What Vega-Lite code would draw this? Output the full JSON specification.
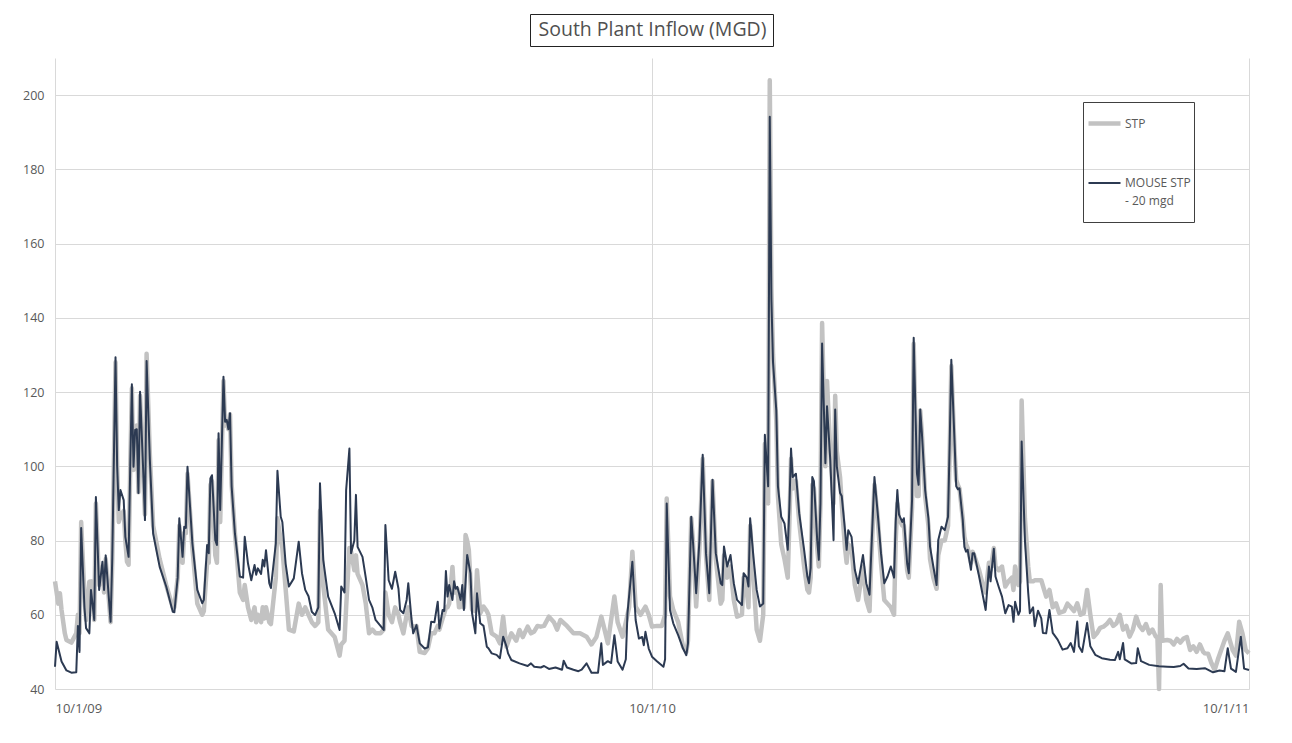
{
"$schema": "https://vega.github.io/schema/vega-lite/v6.json",
"width": 1194, "height": 631,
"autosize": "none",
"padding": {"left": 55, "top": 58, "right": 43, "bottom": 54},
"background": "white",
"data": {"values": [
{"s":"S","day":0,"v":69},{"s":"S","day":1,"v":66},{"s":"S","day":2,"v":63},{"s":"S","day":3,"v":65.8},{"s":"S","day":4,"v":61.3},{"s":"S","day":6,"v":55},{"s":"S","day":7,"v":53.2},{"s":"S","day":10,"v":52.5},{"s":"S","day":13,"v":55},{"s":"S","day":14,"v":60},{"s":"S","day":15,"v":55},{"s":"S","day":16,"v":85},{"s":"S","day":18,"v":65},{"s":"S","day":19,"v":58.6},{"s":"S","day":21,"v":68.9},{"s":"S","day":22,"v":69},{"s":"S","day":24,"v":58.6},{"s":"S","day":25,"v":90},{"s":"S","day":27,"v":68},{"s":"S","day":29,"v":73},{"s":"S","day":30,"v":66},{"s":"S","day":31,"v":75},{"s":"S","day":34,"v":58},{"s":"S","day":35,"v":74},{"s":"S","day":37,"v":128},{"s":"S","day":38,"v":100},{"s":"S","day":39,"v":85},{"s":"S","day":40,"v":86.5},{"s":"S","day":42,"v":88},{"s":"S","day":43,"v":80},{"s":"S","day":44,"v":74.3},{"s":"S","day":45,"v":73.5},{"s":"S","day":46,"v":100},{"s":"S","day":47,"v":121},{"s":"S","day":48,"v":99},{"s":"S","day":49,"v":110},{"s":"S","day":50,"v":111},{"s":"S","day":51,"v":93},{"s":"S","day":52,"v":119},{"s":"S","day":54,"v":97},{"s":"S","day":55,"v":87},{"s":"S","day":56,"v":130.3},{"s":"S","day":58,"v":103},{"s":"S","day":60,"v":84},{"s":"S","day":64,"v":75},{"s":"S","day":68,"v":68},{"s":"S","day":72,"v":62},{"s":"S","day":73,"v":62},{"s":"S","day":75,"v":70},{"s":"S","day":76,"v":84},{"s":"S","day":78,"v":74},{"s":"S","day":79,"v":82},{"s":"S","day":80,"v":82},{"s":"S","day":81,"v":98},{"s":"S","day":84,"v":78},{"s":"S","day":87,"v":63},{"s":"S","day":90,"v":60},{"s":"S","day":91,"v":61},{"s":"S","day":93,"v":74},{"s":"S","day":94,"v":74},{"s":"S","day":95,"v":95},{"s":"S","day":96,"v":96},{"s":"S","day":98,"v":76},{"s":"S","day":99,"v":74},{"s":"S","day":100,"v":107},{"s":"S","day":101,"v":85},{"s":"S","day":103,"v":123},{"s":"S","day":104,"v":111},{"s":"S","day":105,"v":112},{"s":"S","day":106,"v":110},{"s":"S","day":107,"v":114},{"s":"S","day":108,"v":95},{"s":"S","day":110,"v":82},{"s":"S","day":113,"v":66},{"s":"S","day":115,"v":64},{"s":"S","day":116,"v":68},{"s":"S","day":118,"v":62},{"s":"S","day":120,"v":58.6},{"s":"S","day":122,"v":62},{"s":"S","day":123,"v":58},{"s":"S","day":124,"v":60},{"s":"S","day":126,"v":58},{"s":"S","day":127,"v":62},{"s":"S","day":128,"v":59},{"s":"S","day":129,"v":62},{"s":"S","day":131,"v":58},{"s":"S","day":132,"v":57.5},{"s":"S","day":135,"v":70},{"s":"S","day":136,"v":86},{"s":"S","day":138,"v":80},{"s":"S","day":139,"v":78},{"s":"S","day":141,"v":67},{"s":"S","day":143,"v":56},{"s":"S","day":146,"v":55.5},{"s":"S","day":149,"v":63},{"s":"S","day":151,"v":60},{"s":"S","day":153,"v":62},{"s":"S","day":155,"v":60},{"s":"S","day":157,"v":58},{"s":"S","day":159,"v":57},{"s":"S","day":161,"v":58},{"s":"S","day":162,"v":88},{"s":"S","day":164,"v":68},{"s":"S","day":167,"v":56},{"s":"S","day":171,"v":54},{"s":"S","day":174,"v":49},{"s":"S","day":175,"v":52},{"s":"S","day":177,"v":53},{"s":"S","day":178,"v":62},{"s":"S","day":180,"v":78},{"s":"S","day":181,"v":77},{"s":"S","day":183,"v":72},{"s":"S","day":184,"v":76},{"s":"S","day":185,"v":71},{"s":"S","day":188,"v":68},{"s":"S","day":190,"v":63},{"s":"S","day":192,"v":55},{"s":"S","day":194,"v":56},{"s":"S","day":196,"v":55},{"s":"S","day":199,"v":55},{"s":"S","day":201,"v":56},{"s":"S","day":202,"v":66},{"s":"S","day":204,"v":60},{"s":"S","day":206,"v":58},{"s":"S","day":208,"v":62},{"s":"S","day":210,"v":60},{"s":"S","day":211,"v":58},{"s":"S","day":213,"v":55},{"s":"S","day":215,"v":60},{"s":"S","day":216,"v":62},{"s":"S","day":218,"v":57},{"s":"S","day":219,"v":56.7},{"s":"S","day":221,"v":57},{"s":"S","day":223,"v":50},{"s":"S","day":226,"v":49.7},{"s":"S","day":228,"v":51},{"s":"S","day":230,"v":55},{"s":"S","day":232,"v":55},{"s":"S","day":234,"v":57},{"s":"S","day":235,"v":56},{"s":"S","day":237,"v":59},{"s":"S","day":238,"v":60.4},{"s":"S","day":239,"v":62},{"s":"S","day":240,"v":62},{"s":"S","day":241,"v":63},{"s":"S","day":243,"v":72.9},{"s":"S","day":244,"v":66},{"s":"S","day":245,"v":66},{"s":"S","day":246,"v":67},{"s":"S","day":247,"v":62},{"s":"S","day":248,"v":62.2},{"s":"S","day":249,"v":64},{"s":"S","day":250,"v":62},{"s":"S","day":251,"v":81.5},{"s":"S","day":252,"v":80},{"s":"S","day":253,"v":77.5},{"s":"S","day":255,"v":61.3},{"s":"S","day":257,"v":61},{"s":"S","day":258,"v":72},{"s":"S","day":260,"v":60.4},{"s":"S","day":262,"v":62.2},{"s":"S","day":264,"v":61},{"s":"S","day":265,"v":60},{"s":"S","day":267,"v":55},{"s":"S","day":270,"v":54.1},{"s":"S","day":272,"v":52.3},{"s":"S","day":274,"v":59.5},{"s":"S","day":276,"v":51.4},{"s":"S","day":279,"v":55},{"s":"S","day":282,"v":53},{"s":"S","day":284,"v":55.9},{"s":"S","day":286,"v":54},{"s":"S","day":289,"v":56.8},{"s":"S","day":291,"v":55},{"s":"S","day":293,"v":55.5},{"s":"S","day":295,"v":57},{"s":"S","day":297,"v":56.8},{"s":"S","day":299,"v":57},{"s":"S","day":302,"v":59.5},{"s":"S","day":305,"v":58},{"s":"S","day":307,"v":56},{"s":"S","day":309,"v":58.6},{"s":"S","day":313,"v":57},{"s":"S","day":317,"v":55},{"s":"S","day":321,"v":55},{"s":"S","day":325,"v":54.1},{"s":"S","day":328,"v":52},{"s":"S","day":331,"v":54},{"s":"S","day":334,"v":59.5},{"s":"S","day":336,"v":56},{"s":"S","day":338,"v":52.3},{"s":"S","day":342,"v":64.9},{"s":"S","day":344,"v":58},{"s":"S","day":347,"v":54.1},{"s":"S","day":349,"v":58},{"s":"S","day":351,"v":62},{"s":"S","day":353,"v":77},{"s":"S","day":355,"v":62.2},{"s":"S","day":358,"v":60},{"s":"S","day":361,"v":62.2},{"s":"S","day":363,"v":60},{"s":"S","day":365,"v":56.8},{"s":"S","day":368,"v":57},{"s":"S","day":371,"v":57},{"s":"S","day":373,"v":60},{"s":"S","day":374,"v":91.3},{"s":"S","day":376,"v":65},{"s":"S","day":378,"v":61.3},{"s":"S","day":381,"v":58},{"s":"S","day":384,"v":51.4},{"s":"S","day":386,"v":50},{"s":"S","day":387,"v":53},{"s":"S","day":389,"v":86},{"s":"S","day":390,"v":80},{"s":"S","day":392,"v":62.2},{"s":"S","day":394,"v":78},{"s":"S","day":396,"v":102},{"s":"S","day":398,"v":76},{"s":"S","day":400,"v":64},{"s":"S","day":402,"v":96},{"s":"S","day":404,"v":75},{"s":"S","day":407,"v":63},{"s":"S","day":408,"v":64},{"s":"S","day":409,"v":76},{"s":"S","day":411,"v":70},{"s":"S","day":413,"v":73},{"s":"S","day":415,"v":64},{"s":"S","day":417,"v":59.5},{"s":"S","day":420,"v":60},{"s":"S","day":421,"v":70},{"s":"S","day":423,"v":66},{"s":"S","day":424,"v":62},{"s":"S","day":425,"v":84},{"s":"S","day":427,"v":70},{"s":"S","day":429,"v":56},{"s":"S","day":431,"v":53},{"s":"S","day":433,"v":60},{"s":"S","day":434,"v":106},{"s":"S","day":436,"v":90},{"s":"S","day":437,"v":204},{"s":"S","day":438,"v":148},{"s":"S","day":439,"v":130},{"s":"S","day":441,"v":112},{"s":"S","day":442,"v":92},{"s":"S","day":444,"v":79},{"s":"S","day":446,"v":75},{"s":"S","day":448,"v":70},{"s":"S","day":449,"v":85},{"s":"S","day":450,"v":102},{"s":"S","day":451,"v":94},{"s":"S","day":453,"v":96},{"s":"S","day":455,"v":85},{"s":"S","day":458,"v":73},{"s":"S","day":460,"v":66.7},{"s":"S","day":461,"v":66},{"s":"S","day":462,"v":70},{"s":"S","day":463,"v":95},{"s":"S","day":464,"v":94},{"s":"S","day":466,"v":78},{"s":"S","day":467,"v":73},{"s":"S","day":468,"v":90},{"s":"S","day":469,"v":138.6},{"s":"S","day":471,"v":100},{"s":"S","day":472,"v":123},{"s":"S","day":474,"v":104},{"s":"S","day":476,"v":90},{"s":"S","day":477,"v":119},{"s":"S","day":478,"v":104},{"s":"S","day":480,"v":97},{"s":"S","day":481,"v":90},{"s":"S","day":483,"v":78},{"s":"S","day":484,"v":74},{"s":"S","day":485,"v":79},{"s":"S","day":487,"v":78},{"s":"S","day":489,"v":68},{"s":"S","day":491,"v":64},{"s":"S","day":494,"v":73},{"s":"S","day":496,"v":64},{"s":"S","day":498,"v":61},{"s":"S","day":499,"v":74},{"s":"S","day":501,"v":95},{"s":"S","day":503,"v":86},{"s":"S","day":505,"v":74},{"s":"S","day":507,"v":64},{"s":"S","day":509,"v":63},{"s":"S","day":511,"v":62},{"s":"S","day":513,"v":60},{"s":"S","day":514,"v":80},{"s":"S","day":515,"v":90},{"s":"S","day":516,"v":86},{"s":"S","day":518,"v":84},{"s":"S","day":519,"v":84},{"s":"S","day":521,"v":72},{"s":"S","day":522,"v":70},{"s":"S","day":524,"v":89},{"s":"S","day":525,"v":133},{"s":"S","day":527,"v":92},{"s":"S","day":528,"v":92},{"s":"S","day":529,"v":115},{"s":"S","day":530,"v":109},{"s":"S","day":532,"v":92},{"s":"S","day":534,"v":84},{"s":"S","day":535,"v":75},{"s":"S","day":537,"v":70},{"s":"S","day":539,"v":67},{"s":"S","day":540,"v":76},{"s":"S","day":542,"v":80},{"s":"S","day":544,"v":80},{"s":"S","day":546,"v":84},{"s":"S","day":547,"v":104},{"s":"S","day":548,"v":127},{"s":"S","day":550,"v":104},{"s":"S","day":551,"v":96.3},{"s":"S","day":552,"v":95},{"s":"S","day":553,"v":94},{"s":"S","day":555,"v":86},{"s":"S","day":556,"v":81},{"s":"S","day":557,"v":79},{"s":"S","day":558,"v":78},{"s":"S","day":560,"v":74},{"s":"S","day":561,"v":77},{"s":"S","day":562,"v":76},{"s":"S","day":565,"v":72},{"s":"S","day":567,"v":68.5},{"s":"S","day":569,"v":66},{"s":"S","day":571,"v":74},{"s":"S","day":572,"v":72},{"s":"S","day":574,"v":78},{"s":"S","day":575,"v":73},{"s":"S","day":577,"v":72},{"s":"S","day":579,"v":73},{"s":"S","day":581,"v":67.6},{"s":"S","day":583,"v":69},{"s":"S","day":585,"v":70},{"s":"S","day":586,"v":66.7},{"s":"S","day":587,"v":73},{"s":"S","day":589,"v":68},{"s":"S","day":590,"v":69},{"s":"S","day":591,"v":117.7},{"s":"S","day":593,"v":86},{"s":"S","day":595,"v":73},{"s":"S","day":596,"v":69},{"s":"S","day":598,"v":69},{"s":"S","day":599,"v":69.3},{"s":"S","day":601,"v":69.3},{"s":"S","day":603,"v":69.3},{"s":"S","day":606,"v":64.9},{"s":"S","day":608,"v":66.7},{"s":"S","day":610,"v":62},{"s":"S","day":612,"v":63.1},{"s":"S","day":614,"v":60.5},{"s":"S","day":617,"v":61},{"s":"S","day":619,"v":63},{"s":"S","day":621,"v":62},{"s":"S","day":623,"v":61},{"s":"S","day":625,"v":63.1},{"s":"S","day":627,"v":60},{"s":"S","day":629,"v":60.4},{"s":"S","day":631,"v":66.7},{"s":"S","day":633,"v":60},{"s":"S","day":635,"v":54},{"s":"S","day":637,"v":55},{"s":"S","day":639,"v":56.5},{"s":"S","day":641,"v":56.8},{"s":"S","day":643,"v":57.5},{"s":"S","day":645,"v":58.6},{"s":"S","day":647,"v":57},{"s":"S","day":649,"v":57.7},{"s":"S","day":651,"v":60},{"s":"S","day":653,"v":56},{"s":"S","day":655,"v":57},{"s":"S","day":657,"v":54.1},{"s":"S","day":659,"v":56},{"s":"S","day":661,"v":59.5},{"s":"S","day":663,"v":57},{"s":"S","day":665,"v":55.9},{"s":"S","day":667,"v":57.5},{"s":"S","day":669,"v":55},{"s":"S","day":671,"v":56},{"s":"S","day":673,"v":54.1},{"s":"S","day":674,"v":54},{"s":"S","day":675,"v":40},{"s":"S","day":676,"v":68},{"s":"S","day":677,"v":53},{"s":"S","day":680,"v":53.2},{"s":"S","day":682,"v":53},{"s":"S","day":684,"v":52},{"s":"S","day":686,"v":53.5},{"s":"S","day":688,"v":52.5},{"s":"S","day":690,"v":53.6},{"s":"S","day":692,"v":54},{"s":"S","day":694,"v":50.5},{"s":"S","day":696,"v":51.5},{"s":"S","day":698,"v":50},{"s":"S","day":700,"v":52},{"s":"S","day":702,"v":50},{"s":"S","day":703,"v":49.6},{"s":"S","day":705,"v":49.5},{"s":"S","day":707,"v":47},{"s":"S","day":709,"v":45.1},{"s":"S","day":711,"v":48},{"s":"S","day":713,"v":50.5},{"s":"S","day":715,"v":53},{"s":"S","day":717,"v":55},{"s":"S","day":719,"v":52},{"s":"S","day":720,"v":50.5},{"s":"S","day":722,"v":49},{"s":"S","day":724,"v":58.1},{"s":"S","day":726,"v":55},{"s":"S","day":728,"v":50.5},{"s":"S","day":730,"v":49.6},
{"s":"M","day":0,"v":46},{"s":"M","day":1,"v":52.7},{"s":"M","day":4,"v":47.4},{"s":"M","day":7,"v":45},{"s":"M","day":10,"v":44.4},{"s":"M","day":13,"v":44.5},{"s":"M","day":14,"v":57},{"s":"M","day":15,"v":50},{"s":"M","day":16,"v":83.4},{"s":"M","day":18,"v":62},{"s":"M","day":19,"v":56.4},{"s":"M","day":21,"v":55},{"s":"M","day":22,"v":66.7},{"s":"M","day":24,"v":58.6},{"s":"M","day":25,"v":91.7},{"s":"M","day":27,"v":66.7},{"s":"M","day":29,"v":74.3},{"s":"M","day":30,"v":66.7},{"s":"M","day":31,"v":76},{"s":"M","day":34,"v":58.1},{"s":"M","day":35,"v":75},{"s":"M","day":37,"v":129.4},{"s":"M","day":38,"v":100},{"s":"M","day":39,"v":88.2},{"s":"M","day":40,"v":93.6},{"s":"M","day":42,"v":90.9},{"s":"M","day":43,"v":81},{"s":"M","day":44,"v":78.3},{"s":"M","day":45,"v":75.6},{"s":"M","day":46,"v":100},{"s":"M","day":47,"v":122.1},{"s":"M","day":48,"v":99.9},{"s":"M","day":49,"v":109.8},{"s":"M","day":50,"v":110},{"s":"M","day":51,"v":92.8},{"s":"M","day":52,"v":120.1},{"s":"M","day":54,"v":98},{"s":"M","day":55,"v":85.5},{"s":"M","day":56,"v":128.4},{"s":"M","day":58,"v":101.7},{"s":"M","day":60,"v":81.9},{"s":"M","day":64,"v":72.9},{"s":"M","day":68,"v":67.6},{"s":"M","day":72,"v":60.8},{"s":"M","day":73,"v":60.7},{"s":"M","day":75,"v":70},{"s":"M","day":76,"v":86},{"s":"M","day":78,"v":75.6},{"s":"M","day":79,"v":83.7},{"s":"M","day":80,"v":83.4},{"s":"M","day":81,"v":99.9},{"s":"M","day":84,"v":79.2},{"s":"M","day":87,"v":66.7},{"s":"M","day":90,"v":63.1},{"s":"M","day":91,"v":64},{"s":"M","day":93,"v":78.8},{"s":"M","day":94,"v":76.6},{"s":"M","day":95,"v":96.7},{"s":"M","day":96,"v":97.6},{"s":"M","day":98,"v":80.1},{"s":"M","day":99,"v":78.8},{"s":"M","day":100,"v":108.9},{"s":"M","day":101,"v":88.2},{"s":"M","day":103,"v":124.1},{"s":"M","day":104,"v":112},{"s":"M","day":105,"v":112.5},{"s":"M","day":106,"v":110},{"s":"M","day":107,"v":114.3},{"s":"M","day":108,"v":94.5},{"s":"M","day":110,"v":81.9},{"s":"M","day":113,"v":70.3},{"s":"M","day":115,"v":70},{"s":"M","day":116,"v":81},{"s":"M","day":118,"v":73.8},{"s":"M","day":120,"v":69.3},{"s":"M","day":122,"v":73.4},{"s":"M","day":123,"v":70.8},{"s":"M","day":124,"v":72.5},{"s":"M","day":126,"v":71},{"s":"M","day":127,"v":74.8},{"s":"M","day":128,"v":73},{"s":"M","day":129,"v":77.4},{"s":"M","day":131,"v":68.5},{"s":"M","day":132,"v":67.2},{"s":"M","day":135,"v":79.2},{"s":"M","day":136,"v":98.8},{"s":"M","day":138,"v":86.4},{"s":"M","day":139,"v":85},{"s":"M","day":141,"v":73.8},{"s":"M","day":143,"v":67.6},{"s":"M","day":146,"v":69.8},{"s":"M","day":149,"v":79.7},{"s":"M","day":151,"v":71.2},{"s":"M","day":153,"v":66.7},{"s":"M","day":155,"v":65},{"s":"M","day":157,"v":60.8},{"s":"M","day":159,"v":59.9},{"s":"M","day":161,"v":62},{"s":"M","day":162,"v":95.4},{"s":"M","day":164,"v":74.8},{"s":"M","day":167,"v":64.9},{"s":"M","day":171,"v":60.4},{"s":"M","day":174,"v":55.9},{"s":"M","day":175,"v":67.6},{"s":"M","day":177,"v":66},{"s":"M","day":178,"v":93.6},{"s":"M","day":180,"v":104.8},{"s":"M","day":181,"v":76.6},{"s":"M","day":183,"v":80},{"s":"M","day":184,"v":92.3},{"s":"M","day":185,"v":78.3},{"s":"M","day":188,"v":75.6},{"s":"M","day":190,"v":70},{"s":"M","day":192,"v":64},{"s":"M","day":194,"v":62},{"s":"M","day":196,"v":58.6},{"s":"M","day":199,"v":57},{"s":"M","day":201,"v":55.9},{"s":"M","day":202,"v":84.2},{"s":"M","day":204,"v":69.3},{"s":"M","day":206,"v":67},{"s":"M","day":208,"v":71.6},{"s":"M","day":210,"v":67},{"s":"M","day":211,"v":61.3},{"s":"M","day":213,"v":60.4},{"s":"M","day":215,"v":64},{"s":"M","day":216,"v":68.5},{"s":"M","day":218,"v":58.6},{"s":"M","day":219,"v":55},{"s":"M","day":221,"v":57.2},{"s":"M","day":223,"v":52.3},{"s":"M","day":226,"v":50.9},{"s":"M","day":228,"v":51.2},{"s":"M","day":230,"v":58.1},{"s":"M","day":232,"v":58},{"s":"M","day":234,"v":63.5},{"s":"M","day":235,"v":56.3},{"s":"M","day":237,"v":61.3},{"s":"M","day":238,"v":61},{"s":"M","day":239,"v":71.8},{"s":"M","day":240,"v":64.9},{"s":"M","day":241,"v":68},{"s":"M","day":243,"v":64},{"s":"M","day":244,"v":69},{"s":"M","day":245,"v":67},{"s":"M","day":246,"v":67.5},{"s":"M","day":247,"v":65.8},{"s":"M","day":248,"v":64},{"s":"M","day":249,"v":68},{"s":"M","day":250,"v":61.3},{"s":"M","day":252,"v":76.1},{"s":"M","day":254,"v":71.2},{"s":"M","day":255,"v":60.4},{"s":"M","day":257,"v":55},{"s":"M","day":258,"v":65.8},{"s":"M","day":260,"v":57.7},{"s":"M","day":262,"v":57},{"s":"M","day":264,"v":51.4},{"s":"M","day":265,"v":51},{"s":"M","day":267,"v":49.6},{"s":"M","day":270,"v":49.2},{"s":"M","day":272,"v":48.3},{"s":"M","day":274,"v":54.1},{"s":"M","day":276,"v":51.5},{"s":"M","day":277,"v":49.6},{"s":"M","day":279,"v":47.8},{"s":"M","day":284,"v":46.9},{"s":"M","day":289,"v":46.2},{"s":"M","day":291,"v":46.9},{"s":"M","day":293,"v":46},{"s":"M","day":297,"v":45.8},{"s":"M","day":299,"v":46.2},{"s":"M","day":302,"v":45.4},{"s":"M","day":306,"v":45.8},{"s":"M","day":310,"v":45.2},{"s":"M","day":311,"v":47.6},{"s":"M","day":313,"v":45.8},{"s":"M","day":317,"v":45.2},{"s":"M","day":320,"v":44.8},{"s":"M","day":322,"v":45.2},{"s":"M","day":325,"v":46.9},{"s":"M","day":328,"v":44.4},{"s":"M","day":332,"v":44.4},{"s":"M","day":334,"v":52.3},{"s":"M","day":335,"v":46.5},{"s":"M","day":338,"v":47.5},{"s":"M","day":340,"v":47},{"s":"M","day":342,"v":54.5},{"s":"M","day":344,"v":47.4},{"s":"M","day":347,"v":45.2},{"s":"M","day":349,"v":48},{"s":"M","day":350,"v":60.4},{"s":"M","day":353,"v":74.3},{"s":"M","day":355,"v":58.6},{"s":"M","day":357,"v":53.6},{"s":"M","day":359,"v":54},{"s":"M","day":360,"v":51.8},{"s":"M","day":361,"v":55.4},{"s":"M","day":363,"v":50.9},{"s":"M","day":365,"v":48.7},{"s":"M","day":368,"v":47.5},{"s":"M","day":372,"v":46},{"s":"M","day":373,"v":48},{"s":"M","day":374,"v":90},{"s":"M","day":376,"v":61.3},{"s":"M","day":378,"v":57.7},{"s":"M","day":381,"v":54.5},{"s":"M","day":384,"v":50.9},{"s":"M","day":386,"v":49.1},{"s":"M","day":387,"v":52.3},{"s":"M","day":389,"v":86.4},{"s":"M","day":390,"v":80},{"s":"M","day":392,"v":65.8},{"s":"M","day":394,"v":80},{"s":"M","day":396,"v":103.1},{"s":"M","day":398,"v":76.6},{"s":"M","day":400,"v":65.8},{"s":"M","day":402,"v":96.4},{"s":"M","day":404,"v":76.6},{"s":"M","day":407,"v":68.5},{"s":"M","day":408,"v":68},{"s":"M","day":409,"v":78.4},{"s":"M","day":411,"v":73},{"s":"M","day":413,"v":76.1},{"s":"M","day":415,"v":68.5},{"s":"M","day":417,"v":64},{"s":"M","day":420,"v":62.6},{"s":"M","day":421,"v":71.2},{"s":"M","day":423,"v":70},{"s":"M","day":424,"v":67.6},{"s":"M","day":425,"v":86},{"s":"M","day":427,"v":75.6},{"s":"M","day":429,"v":66.7},{"s":"M","day":431,"v":62.2},{"s":"M","day":433,"v":63},{"s":"M","day":434,"v":108.5},{"s":"M","day":436,"v":94.6},{"s":"M","day":437,"v":194.2},{"s":"M","day":438,"v":145},{"s":"M","day":439,"v":128},{"s":"M","day":441,"v":115},{"s":"M","day":442,"v":94.6},{"s":"M","day":444,"v":86.4},{"s":"M","day":446,"v":84.6},{"s":"M","day":448,"v":77.5},{"s":"M","day":449,"v":89.1},{"s":"M","day":450,"v":104.8},{"s":"M","day":451,"v":97.1},{"s":"M","day":453,"v":98},{"s":"M","day":455,"v":87.3},{"s":"M","day":458,"v":77.5},{"s":"M","day":460,"v":70.3},{"s":"M","day":461,"v":68.5},{"s":"M","day":462,"v":72.6},{"s":"M","day":463,"v":97.1},{"s":"M","day":464,"v":96},{"s":"M","day":466,"v":80.1},{"s":"M","day":467,"v":74.8},{"s":"M","day":468,"v":90},{"s":"M","day":469,"v":133.1},{"s":"M","day":471,"v":100.8},{"s":"M","day":472,"v":116.2},{"s":"M","day":474,"v":101.7},{"s":"M","day":476,"v":80.1},{"s":"M","day":477,"v":115.3},{"s":"M","day":478,"v":100},{"s":"M","day":480,"v":92.8},{"s":"M","day":481,"v":92},{"s":"M","day":483,"v":82.8},{"s":"M","day":484,"v":77.5},{"s":"M","day":485,"v":82.8},{"s":"M","day":487,"v":81},{"s":"M","day":489,"v":72.1},{"s":"M","day":491,"v":68.5},{"s":"M","day":494,"v":76.1},{"s":"M","day":496,"v":68.5},{"s":"M","day":498,"v":65.4},{"s":"M","day":499,"v":76.1},{"s":"M","day":501,"v":97.1},{"s":"M","day":503,"v":87.3},{"s":"M","day":505,"v":76.6},{"s":"M","day":507,"v":68.5},{"s":"M","day":509,"v":70.3},{"s":"M","day":511,"v":73},{"s":"M","day":513,"v":70},{"s":"M","day":514,"v":85.1},{"s":"M","day":515,"v":93.6},{"s":"M","day":516,"v":87},{"s":"M","day":518,"v":85},{"s":"M","day":519,"v":86},{"s":"M","day":521,"v":73.8},{"s":"M","day":522,"v":71.2},{"s":"M","day":524,"v":91},{"s":"M","day":525,"v":134.6},{"s":"M","day":527,"v":98},{"s":"M","day":528,"v":95},{"s":"M","day":529,"v":115.3},{"s":"M","day":530,"v":109},{"s":"M","day":532,"v":93.6},{"s":"M","day":534,"v":86},{"s":"M","day":535,"v":78.3},{"s":"M","day":537,"v":73},{"s":"M","day":539,"v":68},{"s":"M","day":540,"v":80.1},{"s":"M","day":542,"v":83.7},{"s":"M","day":544,"v":82.8},{"s":"M","day":546,"v":86.4},{"s":"M","day":547,"v":106.3},{"s":"M","day":548,"v":128.7},{"s":"M","day":550,"v":106.3},{"s":"M","day":551,"v":94.6},{"s":"M","day":552,"v":93.8},{"s":"M","day":553,"v":94.1},{"s":"M","day":555,"v":85.5},{"s":"M","day":556,"v":78.3},{"s":"M","day":557,"v":77},{"s":"M","day":558,"v":77.5},{"s":"M","day":560,"v":72.1},{"s":"M","day":561,"v":76.6},{"s":"M","day":562,"v":76.6},{"s":"M","day":565,"v":70.3},{"s":"M","day":567,"v":65.8},{"s":"M","day":569,"v":61.3},{"s":"M","day":571,"v":73},{"s":"M","day":572,"v":69},{"s":"M","day":574,"v":77.8},{"s":"M","day":575,"v":70.3},{"s":"M","day":577,"v":67.5},{"s":"M","day":579,"v":64.9},{"s":"M","day":581,"v":60.4},{"s":"M","day":583,"v":62.6},{"s":"M","day":585,"v":62.2},{"s":"M","day":586,"v":58.1},{"s":"M","day":587,"v":63.5},{"s":"M","day":589,"v":60},{"s":"M","day":590,"v":61},{"s":"M","day":591,"v":106.7},{"s":"M","day":593,"v":80.1},{"s":"M","day":595,"v":66},{"s":"M","day":596,"v":60.4},{"s":"M","day":598,"v":62},{"s":"M","day":599,"v":56.9},{"s":"M","day":601,"v":61.1},{"s":"M","day":603,"v":59},{"s":"M","day":604,"v":55.1},{"s":"M","day":606,"v":55},{"s":"M","day":608,"v":61.3},{"s":"M","day":610,"v":55.1},{"s":"M","day":613,"v":53.3},{"s":"M","day":616,"v":50.6},{"s":"M","day":619,"v":51},{"s":"M","day":621,"v":52.4},{"s":"M","day":623,"v":50},{"s":"M","day":625,"v":58.2},{"s":"M","day":626,"v":51.5},{"s":"M","day":628,"v":50},{"s":"M","day":631,"v":57.8},{"s":"M","day":633,"v":51.5},{"s":"M","day":636,"v":49.2},{"s":"M","day":640,"v":48.3},{"s":"M","day":645,"v":47.9},{"s":"M","day":648,"v":47.8},{"s":"M","day":650,"v":50},{"s":"M","day":651,"v":48},{"s":"M","day":653,"v":52.4},{"s":"M","day":654,"v":48},{"s":"M","day":658,"v":46.9},{"s":"M","day":661,"v":47},{"s":"M","day":662,"v":51},{"s":"M","day":664,"v":47.5},{"s":"M","day":669,"v":46.5},{"s":"M","day":675,"v":46.1},{"s":"M","day":680,"v":46},{"s":"M","day":684,"v":45.9},{"s":"M","day":688,"v":46.2},{"s":"M","day":690,"v":46.8},{"s":"M","day":693,"v":45.5},{"s":"M","day":698,"v":45.4},{"s":"M","day":703,"v":45.6},{"s":"M","day":708,"v":44.5},{"s":"M","day":712,"v":45},{"s":"M","day":715,"v":44.8},{"s":"M","day":717,"v":51},{"s":"M","day":719,"v":45.5},{"s":"M","day":722,"v":44.6},{"s":"M","day":725,"v":54.1},{"s":"M","day":727,"v":45.5},{"s":"M","day":730,"v":45.1}
]},
"config": {
  "view": {"stroke": null},
  "axis": {"grid": true, "gridColor": "#d9d9d9", "gridWidth": 1, "domain": false, "ticks": false, "labelFont": "Open Sans", "labelColor": "#595959", "labelFontSize": 12.5, "title": null}
},
"encoding": {
  "x": {"field": "day", "type": "quantitative", "scale": {"domain": [0, 730], "nice": false, "zero": false},
        "axis": {"values": [0, 365, 730], "labelExpr": "datum.value == 0 ? '10/1/09' : datum.value == 365 ? '10/1/10' : '10/1/11'", "labelPadding": 13, "labelFontSize": 13}},
  "y": {"field": "v", "type": "quantitative", "scale": {"domain": [40, 210], "nice": false, "zero": false},
        "axis": {"values": [40, 60, 80, 100, 120, 140, 160, 180, 200], "labelPadding": 11}},
  "color": {"field": "s", "type": "nominal", "scale": {"domain": ["S", "M"], "range": ["#c2c2c2", "#2c3a52"]},
    "legend": {"orient": "none", "legendX": 1028, "legendY": 44, "title": " ", "titleOrient": "bottom", "titleFontSize": 9, "titlePadding": 3, "symbolType": "stroke", "symbolSize": 1024, "labelOffset": 2, "padding": 3, "rowPadding": 33, "strokeColor": "#404040", "labelExpr": "datum.value == 'S' ? 'STP' : ['MOUSE STP', '- 20 mgd']", "labelFont": "Open Sans", "labelFontSize": 12, "labelColor": "#595959",
      "encode": {"labels": {"update": {"lineHeight": {"value": 18}}}}}},
  "strokeWidth": {"field": "s", "type": "nominal", "scale": {"domain": ["S", "M"], "range": [4.5, 2]}}
},
"layer": [
  {"transform": [{"filter": "datum.s == 'S'"}],
   "mark": {"type": "line", "strokeJoin": "round"},
   "encoding": {"opacity": {"datum": "South Plant Inflow (MGD)", "type": "ordinal", "scale": {"range": [1, 1]},
     "legend": {"orient": "none", "legendX": 475, "legendY": -44, "title": null, "symbolSize": 0, "symbolOpacity": 0, "symbolStrokeWidth": 0, "labelOffset": -17, "labelLimit": 500, "labelFontSize": 19.5, "labelFont": "Open Sans", "labelColor": "#505050", "padding": 6, "strokeColor": "#222222"}}}},
  {"transform": [{"filter": "datum.s == 'M'"}],
   "mark": {"type": "line", "strokeJoin": "round"}}
]
}
